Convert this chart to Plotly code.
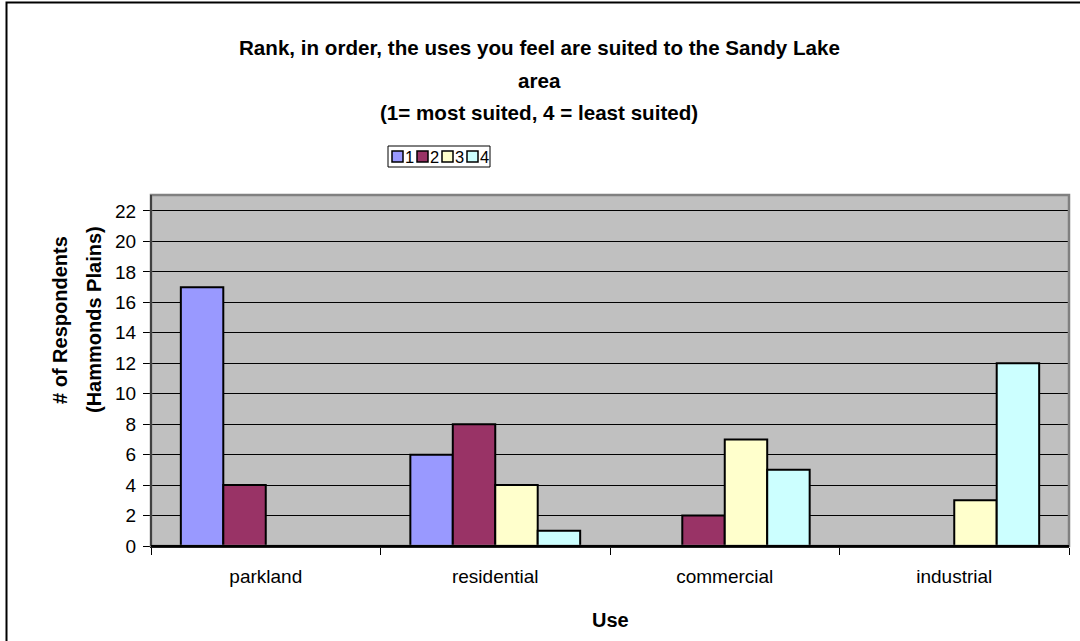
import plotly.graph_objects as go

# Survey counts per use, one list per rank
uses = ['parkland', 'residential', 'commercial', 'industrial']
rank_1 = [17, 6, 0, 0]
rank_2 = [4, 8, 2, 0]
rank_3 = [0, 4, 7, 3]
rank_4 = [0, 1, 5, 12]
rank_names = ['1', '2', '3', '4']
rank_colors = ['#9999FF', '#993366', '#FFFFCC', '#CCFFFF']
y_ticks = list(range(0, 23, 2))

title_lines = ['Rank, in order, the uses you feel are suited to the Sandy Lake',
               'area',
               '(1= most suited, 4 = least suited)']
y_title_lines = ['# of Respondents', '(Hammonds Plains)']

FONT = 'Liberation Sans, Arial, sans-serif'
W, H = 1080, 641
L, T, PW, PH = 151, 195, 918, 351


def px(x):
    # pixel column -> paper x
    return (x - L) / PW


def py(y):
    # pixel row -> paper y
    return (T + PH - y) / PH


fig = go.Figure()
for name, vals, col in zip(rank_names, [rank_1, rank_2, rank_3, rank_4], rank_colors):
    # Excel leaves empty cells blank, so zeros are not drawn
    fig.add_trace(go.Bar(
        x=uses,
        y=[v if v else None for v in vals],
        name=name,
        marker=dict(color=col, line=dict(color='black', width=2)),
        showlegend=False,
    ))

fig.update_layout(
    width=W,
    height=H,
    barmode='group',
    bargap=0.26,
    bargroupgap=0,
    plot_bgcolor='#C0C0C0',
    paper_bgcolor='white',
    font=dict(family=FONT, color='black', size=19),
    margin=dict(l=L, r=W - L - PW, t=T, b=H - T - PH),
    showlegend=False,
)

fig.update_xaxes(
    showline=True, linecolor='black', linewidth=2,
    ticks='outside', ticklen=7, tickcolor='black', tickson='boundaries',
    ticklabelstandoff=12,
    showgrid=False,
)
fig.update_yaxes(
    range=[0, 23.05],
    tickvals=y_ticks,
    showline=True, linecolor='black', linewidth=1,
    ticks='outside', ticklen=7, tickcolor='black',
    ticklabelstandoff=3,
    showgrid=True, gridcolor='black', gridwidth=1,
    zeroline=False,
)

# chart title, three lines
for i, line in enumerate(title_lines):
    fig.add_annotation(text=f'<b>{line}</b>', xref='paper', yref='paper',
                       x=px(539), y=py(48 + 32 * i), xanchor='center', yanchor='middle',
                       showarrow=False, font=dict(size=20.6))

# axis titles
for i, line in enumerate(y_title_lines):
    fig.add_annotation(text=f'<b>{line}</b>', xref='paper', yref='paper',
                       x=px(60 + 34 * i), y=py(320), xanchor='center', yanchor='middle',
                       textangle=-90, showarrow=False, font=dict(size=20))
fig.add_annotation(text='<b>Use</b>', xref='paper', yref='paper',
                   x=0.5, y=py(620), xanchor='center', yanchor='middle',
                   showarrow=False, font=dict(size=20))

# Excel style legend box
fig.add_shape(type='rect', xref='paper', yref='paper',
              x0=px(388), x1=px(490), y0=py(167), y1=py(146),
              line=dict(color='black', width=1), fillcolor='white')
for i, (name, col) in enumerate(zip(rank_names, rank_colors)):
    x0 = 392 + 25 * i
    fig.add_shape(type='rect', xref='paper', yref='paper',
                  x0=px(x0), x1=px(x0 + 11), y0=py(162), y1=py(151),
                  line=dict(color='black', width=1.5), fillcolor=col)
    fig.add_annotation(text=name, xref='paper', yref='paper',
                       x=px(x0 + 12), y=py(156.5), xanchor='left', yanchor='middle',
                       showarrow=False, font=dict(size=16.5), borderpad=0)

# grey frame of the plot area and black outer chart border
fig.add_shape(type='rect', xref='paper', yref='paper', x0=0, x1=1, y0=0, y1=1,
              line=dict(color='#808080', width=2.5), layer='above')
fig.add_shape(type='line', xref='paper', yref='paper', x0=0, x1=0, y0=0, y1=1,
              line=dict(color='black', width=1), layer='above')
fig.add_shape(type='line', xref='paper', yref='paper', x0=0, x1=1, y0=0, y1=0,
              line=dict(color='black', width=2), layer='above')
fig.add_shape(type='rect', xref='paper', yref='paper',
              x0=px(6.5), x1=px(1090), y0=py(650), y1=py(2.5),
              line=dict(color='black', width=2))

fig.write_html('out.html', config={'displayModeBar': False},
               post_script="document.body.style.margin='0';")
